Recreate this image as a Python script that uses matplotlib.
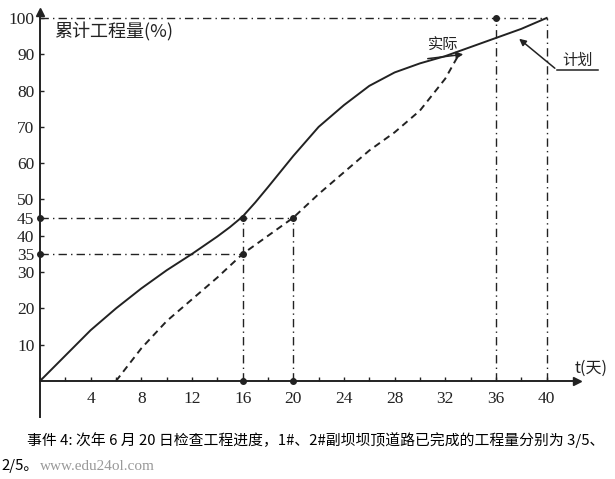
import matplotlib
matplotlib.use('Agg')
import matplotlib.pyplot as plt
from matplotlib.lines import Line2D

# ---- data ----
plan_days = [0, 2, 4, 6, 8, 10, 12, 14, 15, 16, 17, 18, 20, 22, 24, 26, 28, 30, 32, 34, 36, 38, 40]
plan_vals = [0, 7, 14, 20, 25.5, 30.5, 35, 39.8, 42.4, 45.3, 49.2, 53.4, 62, 70, 76, 81.3, 85, 87.5, 89.5, 92, 94.5, 97, 100]
actual_days = [6, 8, 10, 12, 14, 16, 18, 20, 22, 24, 26, 28, 30, 32, 33]
actual_vals = [0, 9, 16.5, 22.5, 28.5, 35, 40, 45, 51.5, 57.5, 63.5, 68.5, 74.5, 83.3, 89.5]
x_ticks = [4, 8, 12, 16, 20, 24, 28, 32, 36, 40]
y_ticks = [10, 20, 30, 35, 40, 45, 50, 60, 70, 80, 90, 100]
check_day1, check_day2 = 16, 20
check_val1, check_val2 = 35, 45
plan_end_day, actual_end_day = 40, 36

CJK = ['Noto Sans CJK SC', 'DejaVu Sans']
SERIF = 'Liberation Serif'
ink = '#222222'

W, H = 615, 479
fig = plt.figure(figsize=(W / 100, H / 100), dpi=100)
ax = fig.add_axes([40 / W, (H - 381) / H, 537 / W, 369 / H])
ax.set_xlim(0, 42.4)
ax.set_ylim(0, 101.65)
for s in ['top', 'right']:
    ax.spines[s].set_visible(False)
for s in ['left', 'bottom']:
    ax.spines[s].set_color(ink)
    ax.spines[s].set_linewidth(1.4)

# axis arrows and stub of y axis below origin
ax.plot(1, 0, '>', transform=ax.transAxes, clip_on=False, color=ink, ms=6)
ax.plot(0, 1, '^', transform=ax.transAxes, clip_on=False, color=ink, ms=6)
ax.plot([0, 0], [0, -10], clip_on=False, color=ink, lw=1.4)

# ticks
ax.set_xticks(x_ticks)
ax.set_xticks(range(0, 41, 2), minor=True)
ax.set_yticks(y_ticks)
ax.tick_params(axis='both', which='both', direction='in', length=3, color=ink, width=1)
ax.tick_params(axis='x', pad=7)
ax.tick_params(axis='y', pad=4)
for lab in ax.get_xticklabels() + ax.get_yticklabels():
    lab.set_fontfamily(SERIF)
    lab.set_fontsize(12.5)
    lab.set_color(ink)

# reference dash-dot lines
dd = dict(color=ink, lw=1.0, linestyle=(0, (6, 3, 1, 3)))
ax.plot([0, plan_end_day], [100, 100], **dd)
ax.plot([actual_end_day, actual_end_day], [0, 100], **dd)
ax.plot([plan_end_day, plan_end_day], [0, 100], **dd)
ax.plot([0, check_day2], [check_val2, check_val2], **dd)
ax.plot([0, check_day1], [check_val1, check_val1], **dd)
ax.plot([check_day1, check_day1], [0, check_val2], **dd)
ax.plot([check_day2, check_day2], [0, check_val2], **dd)

# marker dots
mx = [0, check_day1, check_day2, 0, check_day1, check_day1, check_day2, actual_end_day]
my = [check_val2, check_val2, check_val2, check_val1, check_val1, 0, 0, 100]
ax.plot(mx, my, 'o', color=ink, ms=4, clip_on=False, zorder=5)

# curves
ax.plot(plan_days, plan_vals, color=ink, lw=1.4)
ax.plot(actual_days, actual_vals, color=ink, lw=1.4, linestyle=(0, (3.5, 2.5)))

# labels inside the chart
def fp(x, y):
    return (x, H - y)

fig.text(54 / W, 1 - 32 / H, '累计工程量(%)', family=CJK, fontsize=13, color=ink, va='center', ha='left')
fig.text(443 / W, 1 - 45 / H, '实际', family=CJK, fontsize=11, color=ink, va='center', ha='center')
fig.text(578 / W, 1 - 60 / H, '计划', family=CJK, fontsize=11, color=ink, va='center', ha='center')
fig.text(575 / W, 1 - 368 / H, 't(天)', family=CJK, fontsize=11.5, color=ink, va='center', ha='left')

# arrows
fig.add_artist(Line2D([598 / W, 557 / W], [1 - 70 / H, 1 - 70 / H], color=ink, lw=1.1))
ax.annotate('', xy=fp(517, 37), xycoords='figure pixels', xytext=fp(557, 70), textcoords='figure pixels',
            arrowprops=dict(arrowstyle='-|>', color=ink, lw=1.1, mutation_scale=10))
ax.annotate('', xy=fp(466, 54), xycoords='figure pixels', xytext=fp(425, 59), textcoords='figure pixels',
            arrowprops=dict(arrowstyle='-|>', color=ink, lw=1.1, mutation_scale=10))

# text below the chart
fig.text(27 / W, 1 - 440 / H, '事件 4: 次年 6 月 20 日检查工程进度，1#、2#副坝坝顶道路已完成的工程量分别为 3/5、',
         family=CJK, fontsize=10.7, color='black', va='center', ha='left')
fig.text(1 / W, 1 - 466 / H, '2/5。', family=CJK, fontsize=10.7, color='black', va='center', ha='left')
fig.text(40 / W, 1 - 466 / H, 'www.edu24ol.com', family=SERIF, fontsize=11, color='#999999', va='center', ha='left')

fig.savefig('out.png', dpi=100)
